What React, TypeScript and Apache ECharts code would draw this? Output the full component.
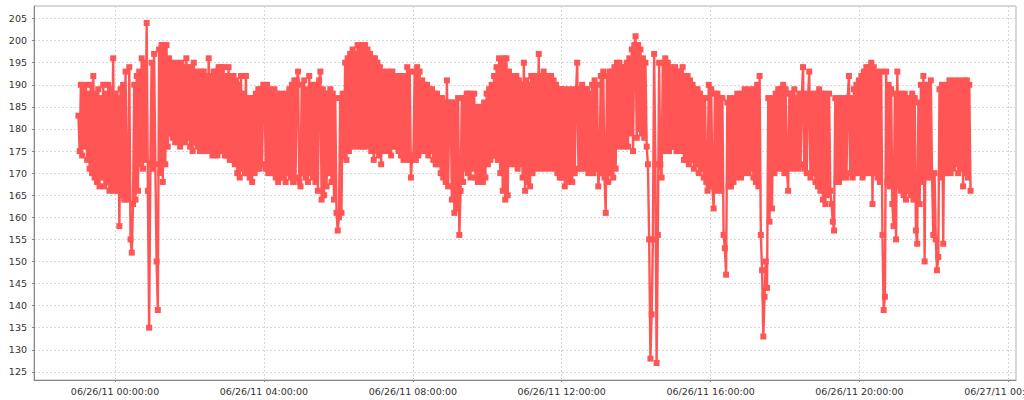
import React, { useEffect, useRef } from "react";
import * as echarts from "echarts";

// Sampling: one reading every 2 minutes, first reading 06/25/11 23:01
const START = new Date(2011, 5, 25, 23, 1, 0).getTime();
const STEP_MINUTES = 2;

// Axis range (as in the reference)
const X_MIN = new Date(2011, 5, 25, 21, 49, 24).getTime();
const X_MAX = new Date(2011, 5, 27, 0, 12, 18).getTime();
const Y_MIN = 123.15;
const Y_MAX = 207.85;

// Tick labels
const X_TICK_TIMES = [
  [2011, 5, 26, 0],
  [2011, 5, 26, 4],
  [2011, 5, 26, 8],
  [2011, 5, 26, 12],
  [2011, 5, 26, 16],
  [2011, 5, 26, 20],
  [2011, 5, 27, 0],
];
const Y_TICKS = [125, 130, 135, 140, 145, 150, 155, 160, 165, 170, 175, 180, 185, 190, 195, 200, 205];

// Readings, one array per hour (30 readings each)
const h23 = [183, 175, 190, 174, 189, 176, 190, 173, 188, 171, 190, 170, 192, 169, 188, 168, 189, 167, 187, 169, 190, 167, 188, 168, 190, 166, 189, 167, 196, 166];
const h00 = [188, 166, 187, 158, 189, 165, 190, 164, 193, 165, 164, 194, 155, 152, 163, 190, 164, 192, 166, 193, 172, 196, 171, 195, 173, 204, 166, 135, 172, 195];
const h01 = [171, 197, 172, 150, 139, 198, 170, 199, 168, 199, 172, 199, 176, 196, 179, 195, 178, 194, 177, 195, 177, 194, 176, 195, 177, 194, 177, 196, 178, 194];
const h02 = [176, 194, 175, 195, 177, 193, 176, 192, 175, 193, 176, 193, 175, 192, 176, 196, 175, 192, 174, 193, 175, 193, 174, 194, 175, 194, 175, 194, 174, 192];
const h03 = [174, 194, 173, 192, 173, 192, 172, 191, 170, 190, 169, 192, 171, 188, 170, 192, 170, 187, 169, 187, 168, 187, 170, 188, 171, 189, 171, 189, 172, 190];
const h04 = [189, 171, 190, 170, 189, 171, 188, 170, 189, 169, 188, 168, 187, 169, 188, 169, 187, 168, 188, 170, 189, 169, 190, 168, 191, 169, 191, 193, 168, 167];
const h05 = [190, 170, 191, 169, 189, 168, 192, 170, 190, 169, 189, 168, 190, 166, 191, 193, 164, 189, 165, 188, 167, 188, 170, 189, 168, 188, 164, 187, 161, 157];
const h06 = [160, 187, 161, 188, 174, 195, 173, 196, 175, 197, 176, 198, 177, 197, 176, 199, 177, 198, 176, 199, 176, 199, 177, 198, 176, 197, 175, 196, 173, 196];
const h07 = [175, 195, 174, 194, 172, 193, 175, 192, 176, 193, 175, 192, 174, 193, 176, 192, 176, 191, 175, 192, 174, 191, 173, 192, 174, 194, 173, 193, 169, 174];
const h08 = [174, 193, 173, 194, 174, 193, 175, 191, 176, 190, 175, 190, 174, 189, 175, 189, 173, 188, 172, 188, 172, 187, 170, 187, 169, 186, 168, 191, 167, 186];
const h09 = [186, 164, 185, 161, 186, 162, 187, 156, 166, 187, 168, 187, 171, 188, 170, 188, 169, 187, 171, 188, 169, 185, 168, 184, 169, 185, 168, 186, 169, 188];
const h10 = [172, 189, 173, 190, 174, 192, 174, 194, 173, 196, 170, 195, 166, 196, 164, 196, 165, 193, 172, 192, 173, 191, 172, 192, 171, 191, 172, 190, 169, 195];
const h11 = [166, 191, 168, 190, 167, 192, 170, 191, 171, 192, 172, 197, 171, 192, 172, 193, 171, 192, 172, 192, 171, 192, 172, 191, 171, 190, 170, 189, 169, 189];
const h12 = [169, 189, 167, 188, 168, 189, 169, 188, 168, 189, 170, 188, 195, 171, 189, 171, 190, 172, 189, 171, 189, 170, 188, 171, 190, 170, 191, 171, 190, 167];
const h13 = [171, 192, 170, 193, 169, 161, 192, 168, 193, 170, 193, 169, 194, 171, 195, 176, 195, 177, 194, 176, 194, 177, 195, 176, 196, 179, 198, 175, 199, 201];
const h14 = [178, 199, 180, 198, 179, 196, 178, 195, 176, 172, 155, 128, 138, 155, 197, 172, 127, 156, 195, 172, 169, 195, 175, 196, 176, 195, 175, 194, 176, 193];
const h15 = [176, 194, 175, 193, 176, 193, 175, 194, 173, 192, 173, 192, 172, 191, 173, 190, 171, 189, 172, 189, 170, 188, 171, 187, 169, 187, 168, 166, 190, 167];
const h16 = [189, 167, 162, 188, 166, 188, 167, 187, 166, 187, 156, 153, 147, 186, 167, 187, 167, 186, 168, 187, 169, 188, 170, 187, 169, 188, 170, 189, 171, 188];
const h17 = [170, 189, 171, 188, 169, 189, 168, 190, 167, 192, 156, 148, 133, 142, 150, 144, 187, 159, 186, 162, 187, 170, 188, 171, 189, 172, 189, 171, 190, 170];
const h18 = [189, 171, 166, 188, 172, 188, 171, 189, 172, 187, 171, 188, 172, 187, 194, 171, 188, 170, 187, 193, 169, 188, 170, 187, 168, 188, 167, 189, 166, 188];
const h19 = [164, 188, 163, 187, 165, 188, 166, 163, 159, 157, 187, 168, 186, 168, 187, 169, 187, 170, 186, 169, 187, 192, 170, 187, 169, 189, 170, 190, 171, 191];
const h20 = [170, 192, 169, 193, 170, 194, 171, 194, 170, 195, 163, 194, 170, 193, 169, 192, 168, 193, 156, 139, 142, 193, 168, 190, 167, 189, 163, 158, 188, 155];
const h21 = [193, 167, 188, 166, 187, 165, 188, 164, 187, 166, 187, 165, 188, 164, 187, 157, 154, 186, 163, 190, 168, 192, 150, 190, 169, 190, 170, 191, 169, 156];
const h22 = [170, 155, 148, 151, 189, 169, 190, 154, 189, 170, 190, 171, 191, 170, 190, 171, 191, 172, 190, 170, 191, 171, 190, 167, 191, 170, 191, 169, 190, 166];

const HOURS = [h23, h00, h01, h02, h03, h04, h05, h06, h07, h08, h09, h10, h11, h12, h13, h14, h15, h16, h17, h18, h19, h20, h21, h22];

const pad = (n: number) => (n < 10 ? "0" + n : "" + n);
const fmtTime = (v: number) => {
  const d = new Date(v);
  return (
    pad(d.getMonth() + 1) + "/" + pad(d.getDate()) + "/" + pad(d.getFullYear() % 100) + " " +
    pad(d.getHours()) + ":" + pad(d.getMinutes()) + ":" + pad(d.getSeconds())
  );
};

export default function App() {
  const ref = useRef<HTMLDivElement>(null);
  useEffect(() => {
    if (!ref.current) return;
    const chart = echarts.init(ref.current, undefined, { renderer: "svg" });
    const values: number[] = ([] as number[]).concat(...HOURS);
    const data = values.map((v, i) => [START + i * STEP_MINUTES * 60000, v]);
    const xTicks = X_TICK_TIMES.map(([y, m, d, h]) => new Date(y, m, d, h, 0, 0).getTime());
    const font = "DejaVu Sans";
    chart.setOption({
      animation: false,
      backgroundColor: "#ffffff",
      grid: {
        left: 34,
        right: 8,
        top: 6,
        bottom: 20,
        containLabel: false,
        outerBoundsMode: "none",
        show: true,
        borderColor: "#b0b0b0",
        borderWidth: 1,
        backgroundColor: "#ffffff",
      },
      xAxis: {
        type: "value",
        min: X_MIN,
        max: X_MAX,
        scale: true,
        axisLine: { show: true, onZero: false, lineStyle: { color: "#888888", width: 1 } },
        axisTick: { show: true, length: 2, lineStyle: { color: "#888888" }, customValues: xTicks },
        axisLabel: {
          customValues: xTicks,
          formatter: (v: number) => fmtTime(v),
          color: "#333333",
          fontFamily: font,
          fontSize: 9.5,
          margin: 6,
          hideOverlap: false,
        },
        splitLine: { show: true, lineStyle: { color: "#d6d6d6", width: 1, type: [2, 2] } },
      },
      yAxis: {
        type: "value",
        min: Y_MIN,
        max: Y_MAX,
        scale: true,
        axisLine: { show: true, onZero: false, lineStyle: { color: "#888888", width: 1 } },
        axisTick: { show: true, length: 2, lineStyle: { color: "#888888" }, customValues: Y_TICKS },
        axisLabel: {
          customValues: Y_TICKS,
          formatter: (v: number) => String(Math.round(v)),
          color: "#333333",
          fontFamily: font,
          fontSize: 9.5,
          margin: 7,
        },
        splitLine: { show: true, lineStyle: { color: "#d6d6d6", width: 1, type: [2, 2] } },
      },
      series: [
        {
          type: "line",
          data,
          symbol: "rect",
          symbolSize: 6,
          showSymbol: true,
          showAllSymbol: true,
          silent: true,
          clip: true,
          lineStyle: { color: "#FF5555", width: 2.4, join: "bevel" },
          itemStyle: { color: "#FF5555", borderWidth: 0 },
          emphasis: { disabled: true },
        },
      ],
    });
    return () => chart.dispose();
  }, []);
  return (
    <div
      ref={ref}
      style={{ position: "absolute", left: 0, top: 0, width: 1024, height: 400 }}
    />
  );
}
